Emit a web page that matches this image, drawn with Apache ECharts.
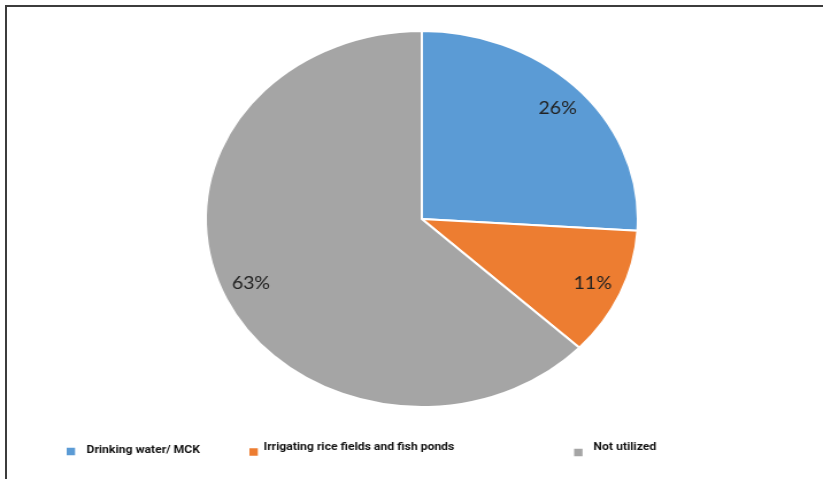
<!DOCTYPE html>
<html><head><meta charset="utf-8">
<script src="https://cdn.jsdelivr.net/npm/echarts@6/dist/echarts.min.js"></script>
<style>
html,body{margin:0;padding:0;background:#fff;width:823px;height:479px;overflow:hidden;}
#frame{position:absolute;left:5px;top:5px;width:830px;height:490px;border-top:2px solid #3c3c3c;border-left:2px solid #3c3c3c;}
#chart{position:absolute;left:0;top:0;width:716px;height:479px;transform:scaleX(1.1494);transform-origin:0 0;}
</style></head>
<body>
<div id="chart"></div>
<div id="frame"></div>
<script>
const categories = ['Drinking water/ MCK', 'Irrigating rice fields and fish ponds', 'Not utilized'];
const values = [26, 11, 63];
const colors = ['#5B9BD5', '#ED7D31', '#A5A5A5'];

const data = categories.map((c, i) => ({ name: c, value: values[i], itemStyle: { color: colors[i] } }));
const chart = echarts.init(document.getElementById('chart'), null, { renderer: 'canvas' });

function legendFor(i, left, top, padLeft, padBottom) {
  return {
    data: [categories[i]], left: left, top: top, padding: 0,
    itemWidth: 7.3, itemHeight: 7.5, icon: 'rect', selectedMode: false,
    itemStyle: { borderWidth: 0, borderColor: 'transparent' },
    formatter: '{a|{name}}',
    textStyle: {
      fontFamily: 'Roboto', fontWeight: 'bold', fontSize: 10.6, color: '#111',
      rich: { a: { fontFamily: 'Roboto', fontWeight: 'bold', fontSize: 10.6, color: '#111', padding: [0, 0, padBottom, padLeft] } }
    }
  };
}

chart.setOption({
  animation: false,
  legend: [
    legendFor(0, 58, 445, 5, 2),
    legendFor(1, 217, 441.5, 0, 10),
    legendFor(2, 499.5, 442, 4.5, 10)
  ],
  series: [
    {
      type: 'pie', center: [367, 219], radius: [0, 188], startAngle: 90, clockwise: true,
      silent: true, label: { show: false }, labelLine: { show: false },
      itemStyle: { borderColor: '#fff', borderWidth: 2 },
      data: data
    },
    {
      type: 'pie', center: [367, 219], radius: [130, 188], startAngle: 90, clockwise: true,
      silent: true, legendHoverLink: false,
      itemStyle: { color: 'rgba(0,0,0,0)', borderWidth: 0 },
      label: { show: true, position: 'inside', formatter: '{d}%', fontFamily: 'Lato', fontSize: 17, color: '#222' },
      labelLine: { show: false },
      data: categories.map((c, i) => ({ name: c + ' ', value: values[i], itemStyle: { color: 'rgba(0,0,0,0)' } }))
    }
  ]
});
</script>
</body></html>
